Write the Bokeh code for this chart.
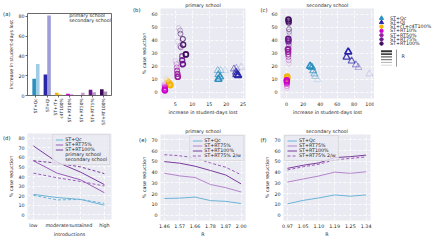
import math
from bokeh.plotting import figure
from bokeh.layouts import row, column
from bokeh.models import Range1d, FixedTicker, Legend, LegendItem, LinearAxis, ColumnDataSource
from bokeh.embed import file_html
from bokeh.resources import INLINE
from bokeh.core.properties import value

# ---------------- data ----------------
strategies = ["ST+Qc", "ST+Ql", "ST+rT+c4T100%", "ST+RT10%", "ST+RT50%", "ST+RT75%", "ST+RT100%"]
bar_labels = ["ST+Qc", "ST+Ql", "ST+rT+\nc4T100%", "ST+RT10%", "ST+RT50%", "ST+RT75%", "ST+RT100%"]
strategy_colors = ["#2b90c0", "#2a26aa", "#f4b400", "#cc00cc", "#9a1c9e", "#6a1a8c", "#3e0a5c"]

# (a) increase in student-days lost
days_lost_primary = [17.0, 21.2, 2.7, 1.7, 0.3, 5.9, 6.2]
days_lost_secondary = [32.0, 80.9, 1.4, 1.2, 2.7, 3.3, 4.0]

# (b) primary school scatter, points ordered by R (low -> high)
b_qc_days = [19.7, 18.4, 17.5, 17.7, 18.2, 17.7]
b_qc_red = [16.6, 16.6, 16.6, 13.4, 11.7, 9.9]
b_ql_days = [24.4, 23.0, 22.3, 22.9, 23.0, 23.5]
b_ql_red = [19.1, 18.3, 17.8, 15.4, 13.4, 12.9]
b_c4_days = [2.2, 2.6, 2.9, 3.1, 3.3, 3.5]
b_c4_red = [10.4, 9.0, 8.0, 7.4, 6.0, 5.4]
b_rt10_days = [1.8, 1.8, 1.9, 1.9, 1.9, 1.9]
b_rt10_red = [6.0, 5.0, 4.0, 3.0, 2.0, 1.3]
b_rt50_days = [5.0, 5.3, 5.4, 5.5, 5.6, 5.7]
b_rt50_red = [24.0, 21.6, 19.0, 16.5, 14.0, 11.8]
b_rt75_days = [5.7, 6.4, 6.6, 7.0, 7.0, 7.2]
b_rt75_red = [39.0, 35.5, 34.5, 27.7, 24.5, 21.5]
b_rt100_days = [6.0, 6.4, 6.5, 7.2, 7.3, 8.1]
b_rt100_red = [49.5, 47.5, 45.0, 41.0, 36.5, 29.0]

# (c) secondary school scatter, points ordered by R (low -> high)
c_qc_days = [37.0, 34.0, 33.0, 31.5, 30.0, 28.0]
c_qc_red = [9.5, 12.0, 14.0, 16.5, 19.0, 20.0]
c_ql_days = [98.0, 85.0, 82.0, 77.0, 71.0, 73.0]
c_ql_red = [14.0, 19.0, 21.0, 24.0, 27.0, 31.0]
c_c4_days = [1.5, 1.3, 1.2, 1.0, 1.0, 0.9]
c_c4_red = [8.0, 9.0, 10.0, 10.5, 11.0, 12.0]
c_rt10_days = [0.6, 0.6, 0.5, 0.5, 0.5, 0.4]
c_rt10_red = [3.0, 4.5, 6.0, 7.0, 8.0, 9.0]
c_rt50_days = [2.8, 2.6, 2.4, 2.2, 2.0, 1.8]
c_rt50_red = [22.0, 24.5, 27.0, 29.0, 31.0, 33.0]
c_rt75_days = [3.2, 3.0, 2.8, 2.6, 2.4, 2.2]
c_rt75_red = [31.0, 34.0, 36.5, 40.0, 39.0, 41.0]
c_rt100_days = [3.5, 3.2, 3.0, 2.8, 2.6, 2.4]
c_rt100_red = [44.0, 46.5, 48.5, 53.5, 54.5, 56.0]

# (d) introductions
intro_levels = ["low", "moderate", "sustained", "high"]
d_qc_primary = [21.3, 18.0, 16.0, 10.0]
d_qc_secondary = [20.3, 15.5, 16.0, 11.8]
d_rt75_primary = [56.5, 43.5, 36.5, 23.0]
d_rt75_secondary = [43.5, 38.7, 34.8, 30.0]
d_rt100_primary = [72.0, 55.0, 44.5, 31.5]
d_rt100_secondary = [56.5, 54.0, 50.0, 43.0]

# (e) primary school vs R
r_primary = ["1.46", "1.57", "1.66", "1.78", "1.87", "2.00"]
e_qc = [15.5, 15.8, 16.8, 13.5, 12.8, 10.8]
e_rt75 = [39.0, 36.5, 35.0, 28.5, 25.5, 21.5]
e_rt100 = [49.8, 48.3, 45.5, 41.5, 37.3, 29.0]
e_rt75_2w = [56.2, 55.2, 53.3, 48.5, 44.5, 37.5]

# (f) secondary school vs R
r_secondary = ["0.97", "1.05", "1.10", "1.19", "1.25", "1.34"]
f_qc = [10.5, 13.7, 16.0, 18.8, 17.6, 18.8]
f_rt75 = [30.7, 33.6, 36.4, 40.0, 38.9, 40.3]
f_rt100 = [43.5, 46.4, 48.6, 53.5, 54.4, 55.8]
f_rt75_2w = [42.0, 45.0, 47.3, 51.5, 52.7, 54.2]

line_labels = ["ST+Qc", "ST+RT75%", "ST+RT100%", "ST+RT75% 2/w"]
school_labels = ["primary school", "secondary school"]

# ---------------- style ----------------
FONT = "DejaVu Sans"
TXT = "#262626"
BG = "#EAEAF2"
FS = "4.8px"
C_QC = "#6cb5d8"
C_RT75 = "#b584cc"
C_RT100 = "#7a3c9c"
C_2W = "#9a5cb8"
R_WIDTHS = [0.5, 0.7, 0.9, 1.1, 1.35, 1.7]
R_ALPHAS = [0.3, 0.45, 0.6, 0.75, 0.9, 1.0]


def make_fig(geom, xr, yr, seaborn=True, title=None):
    w, h, bl, br, bt, bb = geom
    p = figure(width=w, height=h, x_range=xr, y_range=yr, output_backend="svg",
               toolbar_location=None, min_border_left=bl, min_border_right=br,
               min_border_top=bt, min_border_bottom=bb)
    p.border_fill_color = "white"
    if title:
        p.title.text = title
        p.title.align = "center"
        p.title.text_font = FONT
        p.title.text_font_size = FS
        p.title.text_font_style = "normal"
        p.title.text_color = TXT
        p.title.standoff = 1
    for ax in (p.xaxis[0], p.yaxis[0]):
        ax.major_label_text_font = FONT
        ax.major_label_text_font_size = FS
        ax.major_label_text_color = TXT
        ax.axis_label_text_font = FONT
        ax.axis_label_text_font_size = FS
        ax.axis_label_text_font_style = "normal"
        ax.axis_label_text_color = TXT
        ax.minor_tick_line_color = None
        ax.axis_line_color = None
        ax.axis_label_standoff = 1
        if seaborn:
            ax.major_tick_line_color = None
            ax.major_tick_out = 0
            ax.major_tick_in = 0
            ax.major_label_standoff = 3
        else:
            ax.major_tick_line_color = "#444444"
            ax.major_tick_line_width = 0.8
            ax.major_tick_out = 2
            ax.major_tick_in = 0
            ax.major_label_standoff = 1
    if seaborn:
        p.background_fill_color = BG
        p.outline_line_color = None
        p.grid.grid_line_color = "white"
        p.grid.grid_line_width = 0.8
        p.grid.grid_line_dash = "3 2"
    else:
        p.background_fill_color = "white"
        p.outline_line_color = "#444444"
        p.outline_line_width = 0.8
        p.grid.visible = False
    return p


def panel_letter(p, letter, at_y, standoff):
    ax = LinearAxis(ticker=FixedTicker(ticks=[at_y]), major_label_overrides={at_y: letter},
                    axis_line_color=None, major_tick_line_color=None, minor_tick_line_color=None,
                    major_tick_out=0, major_tick_in=0, major_label_standoff=standoff,
                    major_label_text_font=FONT, major_label_text_font_size="5.3px",
                    major_label_text_color=TXT)
    p.add_layout(ax, "left")


def legend_box(items, location, glyph_w, margin=1, framed=True):
    leg = Legend(items=items, location=location, orientation="vertical",
                 label_text_font=FONT, label_text_font_size=FS, label_text_color=TXT,
                 label_height=5, glyph_height=5, glyph_width=glyph_w, label_standoff=2,
                 spacing=-2, padding=2, margin=margin, label_text_line_height=1.0)
    if framed:
        leg.background_fill_color = BG
        leg.background_fill_alpha = 0.8
        leg.border_line_color = "#cccccc"
        leg.border_line_width = 0.5
    else:
        leg.background_fill_alpha = 0
        leg.border_line_color = None
    return leg


# ---------------- (a) bars ----------------
ga = (130, 128, 22, 19, 13, 31)
fa = make_fig(ga, Range1d(-0.75, 6.7), Range1d(0, 83), seaborn=False)
idx = list(range(len(strategies)))
fa.vbar(x=[i - 0.16 for i in idx], top=days_lost_primary, width=0.32,
        fill_color=strategy_colors, line_color=None)
fa.vbar(x=[i + 0.16 for i in idx], top=days_lost_secondary, width=0.32,
        fill_color=strategy_colors, fill_alpha=0.45, line_color=None)
fa.xaxis.ticker = FixedTicker(ticks=idx)
fa.xaxis.major_label_overrides = {i: bar_labels[i] for i in idx}
fa.xaxis.major_label_orientation = math.pi / 2
fa.xaxis.major_label_text_font_size = "4.3px"
fa.yaxis.ticker = FixedTicker(ticks=[0, 20, 40, 60, 80])
fa.yaxis.axis_label = "increase in student-days lost"
ra1 = fa.vbar(x=[], top=[], width=0.3, fill_color="#333333", line_color=None)
ra2 = fa.vbar(x=[], top=[], width=0.3, fill_color="#b8b8b8", line_color=None)
lega = legend_box([LegendItem(label=school_labels[0], renderers=[ra1]),
                   LegendItem(label=school_labels[1], renderers=[ra2])],
                  "top_right", 5, margin=0, framed=False)
lega.padding = 1
fa.add_layout(lega)
panel_letter(fa, "(a)", 83, -4)


# ---------------- scatter helpers ----------------
def draw_scatter(p, days_lists, red_lists):
    for i, (xs, ys) in enumerate(zip(days_lists, red_lists)):
        tri = i < 2
        src = ColumnDataSource(dict(x=xs, y=ys, lw=R_WIDTHS, la=R_ALPHAS))
        p.scatter(x="x", y="y", source=src, marker="triangle" if tri else "circle",
                  size=7 if tri else 5, fill_color=None, line_color=strategy_colors[i],
                  line_width="lw", line_alpha="la")


# ---------------- (b) primary scatter ----------------
gb = (127, 120, 24, 12, 8, 22)
fb = make_fig(gb, Range1d(0.6, 25.7), Range1d(-5, 64.5), title=school_labels[0])
draw_scatter(fb, [b_qc_days, b_ql_days, b_c4_days, b_rt10_days, b_rt50_days, b_rt75_days, b_rt100_days],
             [b_qc_red, b_ql_red, b_c4_red, b_rt10_red, b_rt50_red, b_rt75_red, b_rt100_red])
fb.xaxis.ticker = FixedTicker(ticks=[5, 10, 15, 20, 25])
fb.yaxis.ticker = FixedTicker(ticks=[0, 10, 20, 30, 40, 50, 60])
fb.xaxis.axis_label = "increase in student-days lost"
fb.yaxis.axis_label = "% case reduction"
panel_letter(fb, "(b)", 63, -1)

# ---------------- (c) secondary scatter ----------------
gc = (117, 120, 21, 0, 8, 22)
fc = make_fig(gc, Range1d(-7, 104), Range1d(-5, 64.5), title=school_labels[1])
draw_scatter(fc, [c_qc_days, c_ql_days, c_c4_days, c_rt10_days, c_rt50_days, c_rt75_days, c_rt100_days],
             [c_qc_red, c_ql_red, c_c4_red, c_rt10_red, c_rt50_red, c_rt75_red, c_rt100_red])
fc.xaxis.ticker = FixedTicker(ticks=[0, 20, 40, 60, 80, 100])
fc.yaxis.ticker = FixedTicker(ticks=[0, 10, 20, 30, 40, 50, 60])
fc.xaxis.axis_label = "increase in student-days lost"
panel_letter(fc, "(c)", 63, 1)

# ---------------- legend figure for (b)/(c) ----------------
fleg = figure(width=58, height=120, x_range=Range1d(0, 58), y_range=Range1d(120, 0),
              output_backend="svg", toolbar_location=None, x_axis_location=None,
              y_axis_location=None, min_border=0)
fleg.outline_line_color = None
fleg.grid.visible = False
fleg.background_fill_color = "white"
fleg.border_fill_color = "white"
row_y = [12.9 + 5.65 * i for i in range(len(strategies))]
for i in idx:
    tri = i < 2
    fleg.scatter(x=[7], y=[row_y[i]], marker="triangle" if tri else "circle",
                 size=4.2 if tri else 3.4, fill_color=strategy_colors[i], line_color=strategy_colors[i])
fleg.text(x=[15.5] * len(strategies), y=row_y, text=strategies, text_font=value(FONT),
          text_font_size=FS, text_color=TXT, text_baseline="middle", text_align="left")
r_rows = [57.1 + 3.7 * k for k in range(6)]
for k in range(6):
    fleg.line(x=[6.5, 17.5], y=[r_rows[k], r_rows[k]], line_color="#333333",
              line_width=R_WIDTHS[5 - k] * 1.2, line_alpha=R_ALPHAS[5 - k])
fleg.line(x=[22, 22], y=[r_rows[0] - 2.5, r_rows[-1] + 2], line_color="#999999", line_width=1)
fleg.text(x=[27], y=[r_rows[0] + 7.5], text=["R"], text_font=value(FONT), text_font_size=FS,
          text_color=TXT, text_baseline="middle", text_align="left")

# ---------------- (d) introductions ----------------
gd = (130, 111, 22, 15, 5, 16)
fd = make_fig(gd, Range1d(-0.25, 3.3), Range1d(-5, 85))
xi = list(range(len(intro_levels)))
l_qc = fd.line(xi, d_qc_primary, line_color=C_QC, line_width=1)
fd.line(xi, d_qc_secondary, line_color=C_QC, line_width=1, line_dash="3 2")
l_75 = fd.line(xi, d_rt75_primary, line_color=C_2W, line_width=1)
fd.line(xi, d_rt75_secondary, line_color=C_2W, line_width=1, line_dash="3 2")
l_100 = fd.line(xi, d_rt100_primary, line_color=C_RT100, line_width=1)
fd.line(xi, d_rt100_secondary, line_color=C_RT100, line_width=1, line_dash="3 2")
l_pri = fd.line(x=[], y=[], line_color="#666666", line_width=1)
l_sec = fd.line(x=[], y=[], line_color="#666666", line_width=1, line_dash="3 2")
fd.xaxis.ticker = FixedTicker(ticks=xi)
fd.xaxis.major_label_overrides = {i: intro_levels[i] for i in xi}
fd.yaxis.ticker = FixedTicker(ticks=[0, 10, 20, 30, 40, 50, 60, 70, 80])
fd.xaxis.axis_label = "introductions"
fd.yaxis.axis_label = "% case reduction"
fd.add_layout(legend_box([LegendItem(label="ST+Qc", renderers=[l_qc]),
                          LegendItem(label="ST+RT75%", renderers=[l_75]),
                          LegendItem(label="ST+RT100%", renderers=[l_100]),
                          LegendItem(label=school_labels[0], renderers=[l_pri]),
                          LegendItem(label=school_labels[1], renderers=[l_sec])],
                         "top_right", 8))
panel_letter(fd, "(d)", 80, -4)


# ---------------- (e) / (f) vs R ----------------
def r_panel(geom, r_labels, qc, rt75, rt100, rt75_2w, title, letter, letter_standoff, leg_loc):
    p = make_fig(geom, Range1d(-0.25, 5.28), Range1d(-5, 75), title=title)
    xr = list(range(len(r_labels)))
    a = p.line(xr, qc, line_color=C_QC, line_width=1)
    b = p.line(xr, rt75, line_color=C_RT75, line_width=1)
    c = p.line(xr, rt100, line_color=C_RT100, line_width=1)
    d = p.line(xr, rt75_2w, line_color=C_2W, line_width=1, line_dash="3 2")
    p.xaxis.ticker = FixedTicker(ticks=xr)
    p.xaxis.major_label_overrides = {i: r_labels[i] for i in xr}
    p.yaxis.ticker = FixedTicker(ticks=[0, 10, 20, 30, 40, 50, 60, 70])
    p.xaxis.axis_label = "R"
    p.yaxis.axis_label = "% case reduction"
    p.add_layout(legend_box([LegendItem(label=line_labels[0], renderers=[a]),
                             LegendItem(label=line_labels[1], renderers=[b]),
                             LegendItem(label=line_labels[2], renderers=[c]),
                             LegendItem(label=line_labels[3], renderers=[d])],
                            leg_loc, 10))
    panel_letter(p, letter, 70, letter_standoff)
    return p


ge = (127, 119, 23, 12, 14, 14)
fe = r_panel(ge, r_primary, e_qc, e_rt75, e_rt100, e_rt75_2w, school_labels[0], "(e)", -7, "top_right")
gf = (175, 119, 21, 62, 14, 14)
ff = r_panel(gf, r_secondary, f_qc, f_rt75, f_rt100, f_rt75_2w, school_labels[1], "(f)", -4, "top_left")

layout = row(column(fa, fd), column(fb, fe), column(row(fc, fleg), ff))
open("out.html", "w").write(file_html(layout, INLINE))
